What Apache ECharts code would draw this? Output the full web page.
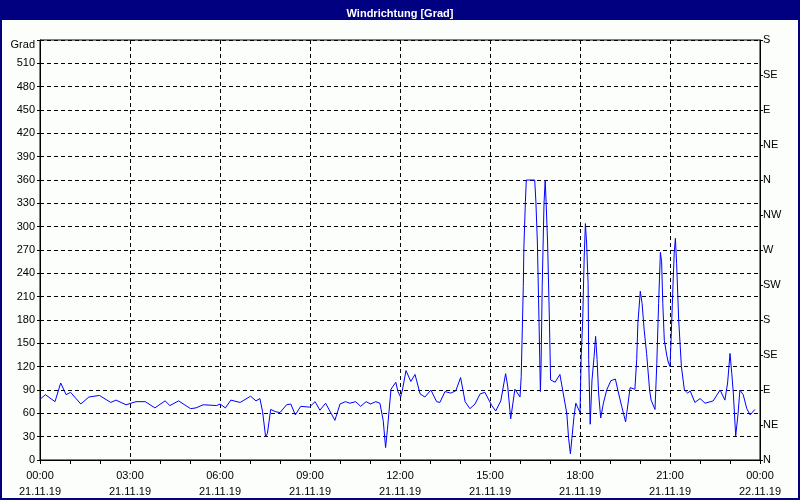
<!DOCTYPE html>
<html>
<head>
<meta charset="utf-8">
<script src="https://cdn.jsdelivr.net/npm/echarts@6/dist/echarts.min.js"></script>
<style>html,body{margin:0;padding:0;background:#fcfefc;}#c{width:800px;height:500px;}</style>
</head>
<body>
<div id="c"></div>
<script>
// hours since 00:00 on 21.11.19
const hours = [
0.00,0.18,0.50,0.69,0.87,1.02,1.36,1.63,1.98,2.36,2.53,2.87,3.20,3.51,3.83,4.17,4.33,4.62,5.02,5.20,5.44,5.89,6.00,6.18,6.36,6.67,7.02,7.20,7.33,7.42,7.52,7.58,7.69,7.86,
8.00,8.22,8.36,8.51,8.69,8.98,9.17,9.33,9.52,9.83,10.00,10.18,10.33,10.52,10.69,10.87,11.02,11.19,11.33,11.44,11.52,11.58,11.70,11.86,11.93,12.02,12.08,12.20,12.36,12.50,12.67,12.83,13.03,13.22,13.33,13.50,13.69,13.86,14.02,14.17,14.33,14.50,14.67,14.83,15.06,15.19,15.36,
15.52,15.59,15.69,15.83,16.00,16.04,16.11,16.13,16.18,16.21,16.49,16.53,16.58,16.64,16.68,16.70,16.74,16.80,16.84,16.87,16.92,16.98,17.02,17.17,17.33,17.44,17.56,17.62,17.68,17.73,17.80,17.86,
18.00,18.04,18.09,18.14,18.18,18.22,18.27,18.29,18.34,18.40,18.47,18.52,18.57,18.62,18.69,18.78,18.89,19.03,19.18,19.26,19.39,19.52,19.67,19.83,19.89,19.93,20.01,20.07,20.14,20.22,20.32,20.37,20.50,20.56,20.62,20.68,20.72,20.76,20.81,20.89,20.94,
21.00,21.04,21.09,21.14,21.18,21.22,21.29,21.38,21.48,21.59,21.67,21.83,22.00,22.17,22.44,22.67,22.83,22.92,23.00,23.06,23.11,23.19,23.27,23.33,23.44,23.56,23.67,23.83
];
// wind direction in degrees
const degrees = [
78,84,75,99,84,87,72,81,83,74,77,71,75,75,67,76,70,76,66,67,71,70,72,67,77,74,82,76,79,62,30,34,65,62,
61,71,72,58,69,68,75,64,73,51,72,75,73,75,69,75,72,75,73,51,16,39,91,100,88,81,90,115,101,110,85,81,90,75,74,88,86,89,106,75,66,72,85,87,70,63,76,
111,95,53,91,81,107,223,274,332,360,360,332,279,167,88,116,223,330,360,332,279,180,103,100,110,86,60,28,8,28,56,73,
61,133,180,261,304,279,227,129,46,103,133,159,129,86,54,73,90,102,104,90,69,49,93,91,129,176,217,201,167,137,90,77,65,124,201,267,255,201,154,135,126,
120,159,214,266,285,253,180,120,90,86,89,74,79,73,76,90,77,99,137,111,86,31,60,90,84,66,58,65
];
const xTimeLabels = ['00:00','03:00','06:00','09:00','12:00','15:00','18:00','21:00','00:00'];
const xDateLabels = ['21.11.19','21.11.19','21.11.19','21.11.19','21.11.19','21.11.19','21.11.19','21.11.19','22.11.19'];
const compassLabels = ['N','NE','E','SE','S','SW','W','NW','N','NE','E','SE','S'];
const titleText = 'Windrichtung [Grad]';
const yUnit = 'Grad';

const data = hours.map((h, i) => [h, degrees[i]]);
const font = 'Liberation Sans, Arial, sans-serif';
const chart = echarts.init(document.getElementById('c'), null, {renderer: 'canvas'});
chart.setOption({
  animation: false,
  backgroundColor: '#fcfefc',
  title: {
    text: titleText, left: 'center', top: 3,
    textStyle: {color: '#fff', fontSize: 11, fontWeight: 'bold', fontFamily: font}
  },
  graphic: [
    {type: 'rect', z: -1, shape: {x: 0, y: 0, width: 800, height: 20}, style: {fill: '#000080'}},
    {type: 'rect', z: 100, shape: {x: 1, y: 1, width: 798, height: 498}, style: {fill: 'none', stroke: '#000080', lineWidth: 2}}
  ],
  grid: {left: 40, right: 40, top: 40, height: 420, show: true, borderColor: '#000', borderWidth: 1, backgroundColor: 'transparent'},
  xAxis: {
    type: 'value', min: 0, max: 24, interval: 3,
    axisLine: {show: true, lineStyle: {color: '#000', width: 1}},
    axisTick: {show: true, length: 4, lineStyle: {color: '#000'}},
    minorTick: {show: true, splitNumber: 3, length: 4, lineStyle: {color: '#000'}},
    splitLine: {show: true, lineStyle: {color: '#000', type: [4, 3], width: 1}},
    axisLabel: {
      color: '#000', fontSize: 11, fontFamily: font, lineHeight: 16, margin: 8,
      formatter: v => { const i = Math.round(v / 3); return xTimeLabels[i] + '\n' + xDateLabels[i]; }
    }
  },
  yAxis: [
    {
      type: 'value', min: 0, max: 540, interval: 30, position: 'left',
      axisLine: {show: true, lineStyle: {color: '#000', width: 1}},
      axisTick: {show: true, length: 3, lineStyle: {color: '#000'}},
      splitLine: {show: true, lineStyle: {color: '#000', type: [4, 3], width: 1}},
      axisLabel: {
        color: '#000', fontSize: 11, fontFamily: font, margin: 5,
        formatter: v => v === 540 ? '{g|' + yUnit + '}' : String(v),
        rich: {g: {fontSize: 11, fontFamily: font, color: '#000', padding: [10, 0, 0, 0]}}
      }
    },
    {
      type: 'value', min: 0, max: 540, interval: 45, position: 'right',
      axisLine: {show: true, lineStyle: {color: '#000', width: 1}},
      axisTick: {show: true, length: 3, lineStyle: {color: '#000'}},
      splitLine: {show: false},
      axisLabel: {
        color: '#000', fontSize: 11, fontFamily: font, margin: 3,
        formatter: v => compassLabels[Math.round(v / 45)]
      }
    }
  ],
  series: [{
    type: 'line', data: data, yAxisIndex: 0, showSymbol: false, symbol: 'none',
    lineStyle: {color: '#0000ff', width: 1}, z: 5
  }]
});
</script>
</body>
</html>
